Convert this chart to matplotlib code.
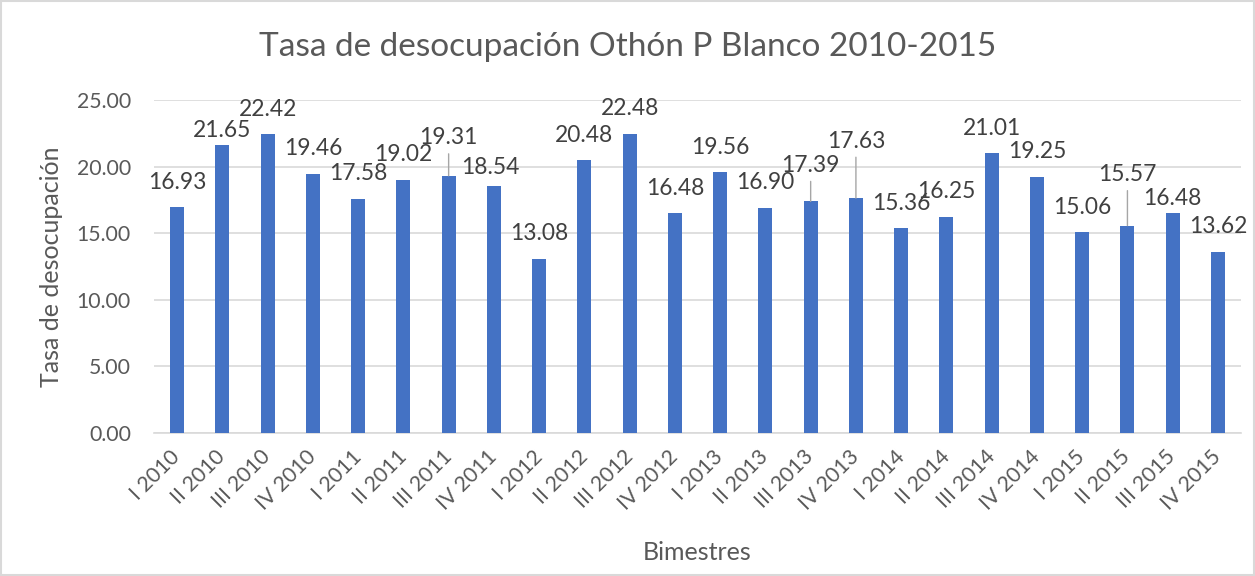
import numpy as np
import matplotlib.pyplot as plt
from matplotlib.patches import Rectangle

# bimester labels and unemployment rate values
periods = ["I 2010", "II 2010", "III 2010", "IV 2010",
           "I 2011", "II 2011", "III 2011", "IV 2011",
           "I 2012", "II 2012", "III 2012", "IV 2012",
           "I 2013", "II 2013", "III 2013", "IV 2013",
           "I 2014", "II 2014", "III 2014", "IV 2014",
           "I 2015", "II 2015", "III 2015", "IV 2015"]
rates = [16.93, 21.65, 22.42, 19.46,
         17.58, 19.02, 19.31, 18.54,
         13.08, 20.48, 22.48, 16.48,
         19.56, 16.90, 17.39, 17.63,
         15.36, 16.25, 21.01, 19.25,
         15.06, 15.57, 16.48, 13.62]
yticks = [0, 5, 10, 15, 20, 25]

# label placement (pixels above bar top); a few were moved by hand in the original
default_off = 25
label_off = {1: (0, 14), 6: (0, 38), 7: (-4, 19), 14: (0, 36),
             15: (0, 57), 21: (0, 51), 22: (0, 15)}
leaders = [6, 14, 15, 21]

plt.rcParams['font.family'] = ['Lato', 'DejaVu Sans']
txt = '#595959'
bar_col = '#4472C4'
grid_col = '#D9D9D9'

fig = plt.figure(figsize=(12.55, 5.76), dpi=100)
ax = fig.add_axes([0.1231, 0.2483, 0.8654, 0.5781])

x = np.arange(len(rates))
ax.bar(x, rates, width=0.31, color=bar_col, zorder=3)

ax.set_xlim(-0.5, len(rates) - 0.5)
ax.set_ylim(0, 25)
ax.set_yticks(yticks)
ax.set_yticklabels([f"{v:.2f}" for v in yticks], color=txt, fontsize=15.3)
ax.yaxis.grid(True, color=grid_col, lw=1.2, zorder=0)
ax.tick_params(axis='both', length=0)
ax.tick_params(axis='y', pad=17)
ax.set_xticks(x)
ax.set_xticklabels(periods, rotation=45, ha='right', va='center',
                   rotation_mode='anchor', color=txt, fontsize=15.3)
ax.tick_params(axis='x', pad=15)
for s in ['top', 'right', 'left']:
    ax.spines[s].set_visible(False)
ax.spines['bottom'].set_color(grid_col)
ax.spines['bottom'].set_linewidth(1.2)

for i, v in enumerate(rates):
    dx, dy = label_off.get(i, (0, default_off))
    props = None
    if i in leaders:
        props = dict(arrowstyle='-', color='#A6A6A6', lw=1, shrinkA=2, shrinkB=0)
    ax.annotate(f"{v:.2f}", xy=(i, v), xytext=(dx, dy), textcoords='offset pixels',
                ha='center', va='center', fontsize=16.4, color='#404040',
                arrowprops=props, zorder=4)

ax.set_ylabel("Tasa de desocupación", color=txt, fontsize=18)
ax.yaxis.set_label_coords(-0.0845, 0.5)
ax.set_xlabel("Bimestres", color=txt, fontsize=18)
ax.xaxis.set_label_coords(0.5, -0.325)

fig.text(0.5, 1 - 47 / 576, "Tasa de desocupación Othón P Blanco 2010-2015",
         ha='center', va='center', fontsize=24, color=txt)

fig.patches.append(Rectangle((0.001, 0.001), 0.998, 0.997, transform=fig.transFigure,
                             fill=False, edgecolor=grid_col, lw=1.5))

fig.savefig("out.png", dpi=100)
